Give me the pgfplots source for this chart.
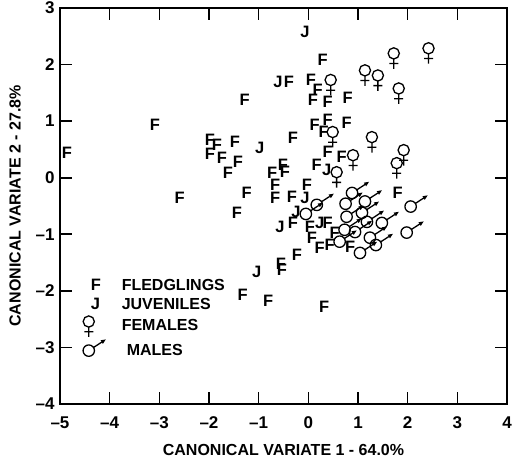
\documentclass[border=0pt]{standalone}
\usepackage{fontspec}
\setmainfont{Liberation Sans}
\usepackage{pgfplots}
\pgfplotsset{compat=1.18}

\pgfdeclareplotmark{female}{%
  \pgfpathcircle{\pgfpoint{0pt}{4.4pt}}{5.6pt}%
  \pgfpathmoveto{\pgfpoint{0pt}{-1.2pt}}\pgfpathlineto{\pgfpoint{0pt}{-11pt}}%
  \pgfpathmoveto{\pgfpoint{-4.5pt}{-5.8pt}}\pgfpathlineto{\pgfpoint{4.5pt}{-5.8pt}}%
  \pgfusepathqstroke}
\pgfdeclareplotmark{male}{%
  \pgfpathcircle{\pgforigin}{5.7pt}%
  \pgfpathmoveto{\pgfpoint{4.7pt}{3.1pt}}\pgfpathlineto{\pgfpoint{13pt}{8.5pt}}%
  \pgfusepathqstroke
  \pgfpathmoveto{\pgfpoint{17pt}{11.2pt}}\pgfpathlineto{\pgfpoint{11.8pt}{10.3pt}}\pgfpathlineto{\pgfpoint{14.1pt}{6.7pt}}\pgfpathclose
  \pgfusepathqfill}

\begin{document}
\begin{tikzpicture}
\useasboundingbox (-60pt,-56pt) rectangle (452pt,404pt);
\begin{axis}[
  scale only axis, width=447pt, height=396pt,
  xmin=-5, xmax=4, ymin=-4, ymax=3,
  xtick={-5,-4,-3,-2,-1,0,1,2,3,4},
  ytick={-4,-3,-2,-1,0,1,2,3},
  xticklabels={–5,–4,–3,–2,–1,0,1,2,3,4},
  yticklabels={–4,–3,–2,–1,0,1,2,3},
  tick align=inside, major tick length=12pt,
  tick style={line width=1.6pt, black},
  axis line style={line width=1.9pt},
  ticklabel style={font=\fontsize{17}{17}\selectfont\bfseries},
  xticklabel style={yshift=-9pt},
  yticklabel style={xshift=-2pt},
  label style={font=\fontsize{16}{16}\selectfont\bfseries},
  xlabel={CANONICAL VARIATE 1 - 64.0\%},
  ylabel={CANONICAL VARIATE 2 - 27.8\%},
  xlabel shift=9pt,
  ylabel shift=8pt,
  clip=false,
  legend style={at={(axis cs:-4.60,-1.72)}, anchor=north west, draw=none, fill=none,
    font=\fontsize{16}{16}\selectfont\bfseries, row sep=2.5pt},
  legend cell align=left,
]
\addplot[only marks, mark=text, text mark={F}, text mark as node=true,
  text mark style={font=\fontsize{16.5}{16.5}\selectfont\bfseries}] coordinates {
(-4.86,0.44) (-3.09,0.94) (-1.28,1.38) (-1.98,0.67) (-1.84,0.58) (-1.48,0.64)
(-1.98,0.42) (-1.74,0.35) (-1.42,0.28) (-1.62,0.09) (-2.59,-0.35) (-1.24,-0.27)
(-1.44,-0.62) (0.29,2.09) (-0.39,1.70) (0.05,1.73) (0.19,1.56) (0.09,1.38)
(0.39,1.35) (0.79,1.42) (0.13,0.94) (0.39,1.03) (0.77,0.97) (0.31,0.81)
(-0.31,0.71) (0.39,0.46) (0.67,0.37) (0.17,0.23) (-0.73,0.09) (-0.51,0.23)
(-0.47,0.11) (-0.67,-0.12) (-0.67,-0.35) (-0.33,-0.34) (-0.03,-0.12) (1.80,-0.27)
(-0.31,-0.80) (0.03,-0.87) (0.39,-0.80) (0.07,-1.06) (0.23,-1.24) (0.43,-1.19)
(0.53,-0.97) (0.84,-1.22) (-0.23,-1.36) (-0.55,-1.52) (-0.53,-1.62) (-1.32,-2.07)
(-0.81,-2.17) (0.32,-2.28)
};
\addlegendentry{\hspace{14pt}FLEDGLINGS}
\addplot[only marks, mark=text, text mark={J}, text mark as node=true,
  text mark style={font=\fontsize{16.5}{16.5}\selectfont\bfseries}] coordinates {
(-0.07,2.58) (-0.61,1.70) (-0.98,0.53) (0.37,0.14) (-0.07,-0.35) (-0.25,-0.60)
(-0.57,-0.87) (0.23,-0.80) (-1.04,-1.66)
};
\addlegendentry{\hspace{14pt}JUVENILES}
\addplot[only marks, mark=female, mark options={line width=1.3pt, black}] coordinates {
(0.45,1.65) (1.14,1.82) (1.40,1.73) (1.72,2.12) (2.42,2.21) (1.82,1.50)
(0.49,0.73) (1.28,0.64) (1.92,0.41) (1.78,0.18) (0.90,0.32) (0.57,0.02)
};
\addlegendentry{\hspace{14pt}FEMALES}
\addplot[only marks, mark=male, mark options={line width=1.3pt, black}] coordinates {
(0.17,-0.48) (-0.05,-0.64) (0.88,-0.27) (0.75,-0.46) (1.14,-0.42) (0.77,-0.69)
(1.08,-0.62) (1.18,-0.78) (1.48,-0.80) (0.73,-0.92) (0.94,-0.96) (0.63,-1.13)
(1.24,-1.06) (1.36,-1.19) (1.04,-1.33) (2.06,-0.51) (1.98,-0.97)
};
\addlegendentry{\hspace{19pt}MALES}
\end{axis}
\end{tikzpicture}
\end{document}
